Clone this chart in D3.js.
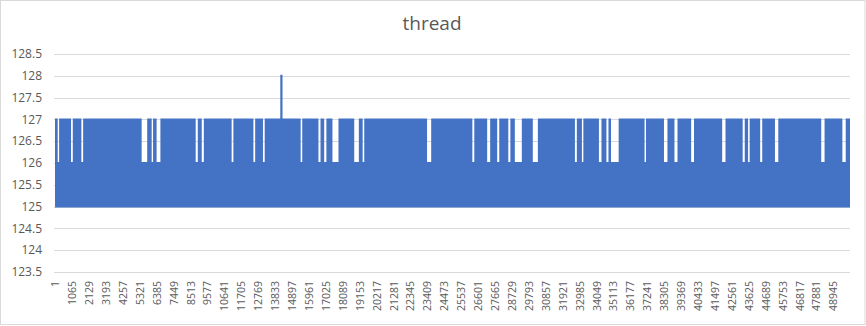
<!DOCTYPE html>
<html>
<head>
<meta charset="utf-8">
<script src="https://cdn.jsdelivr.net/npm/d3@7"></script>
<style>
  body { margin: 0; background: #fff; }
  text { font-family: "Open Sans", "Noto Sans", sans-serif; fill: #595959; }
</style>
</head>
<body>
<div id="content"></div>
<script>
// thread count over ~50000 samples; values swing 125..127 every sample,
// so the line reads as a filled band. Stretches where the top only reaches 126 are listed below.
var pointCount = 50000;
var baseValue = 125;
var highValue = 127;
var lowValue = 126;
var spikeAt = [14170, 14310];
var spikeValue = 128;

// sample ranges where the value only goes up to 126
var lowStart = [170, 1010, 1660, 5450, 6080, 6390, 8850, 9230, 11110, 12480, 13080, 15450, 16570, 16930, 17450,
                18820, 19350, 23400, 26250, 27180, 27810, 28510, 28920, 30050, 32700, 33140, 34210, 34680, 34970,
                37080, 38300, 38960, 40010, 41960, 43250, 43590, 44350, 45280, 48190, 49520];
var lowEnd   = [260, 1120, 1770, 5800, 6170, 6630, 8980, 9360, 11220, 12590, 13190, 15550, 16700, 17070, 17830,
                19110, 19450, 23660, 26370, 27370, 27940, 28640, 29360, 30370, 32820, 33230, 34370, 34810, 35450,
                37170, 38520, 39150, 40190, 42170, 43380, 43690, 44480, 45490, 48400, 49730];

var yTicks = [123.5, 124, 124.5, 125, 125.5, 126, 126.5, 127, 127.5, 128, 128.5];
var xTicks = [1, 1065, 2129, 3193, 4257, 5321, 6385, 7449, 8513, 9577, 10641, 11705, 12769, 13833, 14897,
              15961, 17025, 18089, 19153, 20217, 21281, 22345, 23409, 24473, 25537, 26601, 27665, 28729, 29793,
              30857, 31921, 32985, 34049, 35113, 36177, 37241, 38305, 39369, 40433, 41497, 42561, 43625, 44689,
              45753, 46817, 47881, 48945];

var width = 866, height = 326;
var plotLeft = 55, plotRight = 850, plotTop = 54, plotBottom = 272;
var lineHalf = 1; // half of the line thickness the band shows above/below its values

var svg = d3.select("#content").append("svg")
    .attr("width", width)
    .attr("height", height);

svg.append("rect")
    .attr("x", 0.5).attr("y", 0.5)
    .attr("width", width - 1.5).attr("height", height - 2)
    .attr("fill", "#fff")
    .attr("stroke", "#d9d9d9");

var x = d3.scaleLinear().domain([1, pointCount]).range([plotLeft, plotRight]);
var y = d3.scaleLinear().domain([123.5, 128.5]).range([plotBottom, plotTop]);

// gridlines
svg.append("g").selectAll("line")
    .data(yTicks)
    .enter().append("line")
    .attr("x1", plotLeft - 1)
    .attr("x2", plotRight)
    .attr("y1", function(d) { return Math.round(y(d)) + 0.5; })
    .attr("y2", function(d) { return Math.round(y(d)) + 0.5; })
    .attr("stroke", "#d9d9d9")
    .attr("stroke-width", 1);

// y labels
svg.append("g").selectAll("text")
    .data(yTicks)
    .enter().append("text")
    .attr("x", 42)
    .attr("y", function(d) { return y(d); })
    .attr("dy", "0.35em")
    .attr("text-anchor", "end")
    .style("font-size", "12px")
    .text(function(d) { return d; });

// build the envelope: top of the band per stretch
var ranges = [];
for (var i = 0; i < lowStart.length; i++) {
    ranges.push({ s: lowStart[i], e: lowEnd[i], v: lowValue });
}
ranges.push({ s: spikeAt[0], e: spikeAt[1], v: spikeValue });
ranges.sort(function(a, b) { return a.s - b.s; });

var env = [{ i: 1, v: highValue }];
ranges.forEach(function(r) {
    env.push({ i: r.s, v: r.v });
    env.push({ i: r.e, v: highValue });
});
env.push({ i: pointCount, v: highValue });

var area = d3.area()
    .x(function(d) { return x(d.i); })
    .y0(y(baseValue) + lineHalf)
    .y1(function(d) { return y(d.v) - lineHalf; })
    .curve(d3.curveStepAfter);

svg.append("path")
    .datum(env)
    .attr("d", area)
    .attr("fill", "#4472c4");

// x axis labels
var xAxis = d3.axisBottom(x).tickValues(xTicks).tickSize(0).tickFormat(d3.format("d"));
var gx = svg.append("g")
    .attr("transform", "translate(0," + (plotBottom + 8) + ")")
    .call(xAxis);
gx.select(".domain").remove();
gx.selectAll("text")
    .style("font-size", "10.5px")
    .style("fill", "#595959")
    .attr("transform", "rotate(-90)")
    .attr("text-anchor", "end")
    .attr("x", -1)
    .attr("y", 0)
    .attr("dy", "0.35em");

// title
svg.append("text")
    .attr("x", 432)
    .attr("y", 30)
    .attr("text-anchor", "middle")
    .style("font-size", "19px")
    .text("thread");
</script>
</body>
</html>
